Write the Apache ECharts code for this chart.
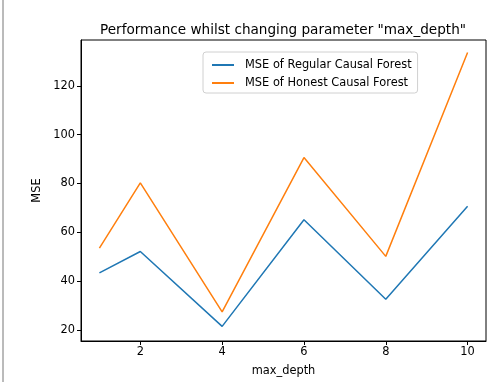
<!DOCTYPE html>
<html>
<head>
<meta charset="utf-8">
<script src="https://cdn.jsdelivr.net/npm/echarts@6/dist/echarts.min.js"></script>
<style>
  html, body { margin: 0; padding: 0; background: #fff; }
  #chart { width: 495px; height: 382px; }
</style>
</head>
<body>
<div id="chart"></div>
<script>
// max_depth values and the two MSE series
var depths = [1, 2, 4, 6, 8, 10]
var regularMse = [43.3, 52.1, 21.4, 65.1, 32.5, 70.6]
var honestMse = [53.5, 80.2, 27.3, 90.6, 50.1, 133.7]
var xTicks = [2, 4, 6, 8, 10]
var yTicks = [20, 40, 60, 80, 100, 120]

function pairs(xs, ys) {
	return xs.map(function(x, i) { return [x, ys[i]] })
}

var font = "DejaVu Sans"
var chart = echarts.init(document.getElementById("chart"), null, { renderer: "canvas" })

var option = {
	animation: false,
	backgroundColor: "#fff",
	textStyle: { fontFamily: font },
	title: {
		text: 'Performance whilst changing parameter "max_depth"',
		left: 278,
		textAlign: "center",
		top: 18,
		textStyle: { fontFamily: font, fontSize: 13.6, fontWeight: "normal", color: "#000" }
	},
	legend: {
		orient: "vertical",
		left: 203,
		top: 52,
		padding: [6, 6, 3, 9],
		itemGap: 4,
		itemWidth: 22,
		itemHeight: 2,
		icon: "rect",
		borderColor: "#d0d0d0",
		borderWidth: 1,
		borderRadius: 3,
		textStyle: { fontFamily: font, fontSize: 11.4, color: "#000", lineHeight: 14, padding: [0, 0, 0, 6] },
		data: ["MSE of Regular Causal Forest", "MSE of Honest Causal Forest"]
	},
	grid: {
		left: 81,
		right: 9,
		top: 40,
		bottom: 40,
		show: true,
		borderColor: "#000",
		borderWidth: 1
	},
	xAxis: {
		type: "value",
		min: 0.55,
		max: 10.45,
		name: "max_depth",
		nameLocation: "middle",
		nameGap: 25,
		nameTextStyle: { fontFamily: font, fontSize: 11.4, color: "#000" },
		splitLine: { show: false },
		axisLine: { show: true, lineStyle: { color: "#000", width: 1 } },
		axisTick: { show: true, length: 4, lineStyle: { color: "#000" }, customValues: xTicks },
		axisLabel: { fontFamily: font, fontSize: 11.4, color: "#000", margin: 6, customValues: xTicks }
	},
	yAxis: {
		type: "value",
		min: 15.4,
		max: 138.8,
		name: "MSE",
		nameLocation: "middle",
		nameGap: 32,
		nameTextStyle: { fontFamily: font, fontSize: 11.4, color: "#000" },
		splitLine: { show: false },
		axisLine: { show: true, lineStyle: { color: "#000", width: 1 } },
		axisTick: { show: true, length: 4, lineStyle: { color: "#000" }, customValues: yTicks },
		axisLabel: { fontFamily: font, fontSize: 11.4, color: "#000", margin: 6, customValues: yTicks }
	},
	graphic: [
		{
			type: "line",
			shape: { x1: 3, y1: 0, x2: 3, y2: 382 },
			style: { stroke: "#777", lineWidth: 1 }
		}
	],
	series: [
		{
			name: "MSE of Regular Causal Forest",
			type: "line",
			symbol: "none",
			data: pairs(depths, regularMse),
			color: "#1f77b4",
			lineStyle: { width: 1.5 }
		},
		{
			name: "MSE of Honest Causal Forest",
			type: "line",
			symbol: "none",
			data: pairs(depths, honestMse),
			color: "#ff7f0e",
			lineStyle: { width: 1.5 }
		}
	]
}

chart.setOption(option)
</script>
</body>
</html>
